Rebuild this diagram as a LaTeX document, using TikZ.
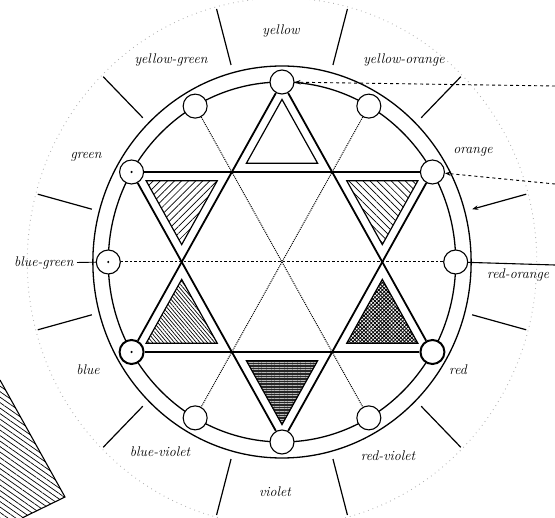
\documentclass[tikz,border=0pt]{standalone}
\usepackage{tikz}
\usetikzlibrary{arrows.meta, patterns.meta}

\begin{document}
\begin{tikzpicture}[x=1pt, y=1pt,
            hue/.style={circle, draw, fill=white, minimum size=24pt, inner sep=0pt, line width=1.1pt},
            keyhue/.style={hue, line width=2pt},
            ring/.style={line width=1.3pt},
            hexside/.style={line width=1.8pt},
            inset/.style={line width=1.2pt},
            guide/.style={densely dotted, line width=1pt},
            tickmark/.style={line width=1.2pt},
            pointer/.style={dashed, line width=0.9pt, -{Stealth[length=6pt]}},
            lbl/.style={font=\fontsize{14}{16}\selectfont\itshape}
        ]
            \useasboundingbox (0,0) rectangle (555,-518);

            % hatched corner of another figure
            \fill[pattern={Lines[angle=-35, distance=4.5pt, line width=0.7pt]}]
                (0,-380) -- (65,-497) -- (22,-518) -- (0,-518) -- cycle;
            \draw[line width=1.1pt] (0,-380) -- (65,-497) -- (22,-518);

            \begin{scope}[shift={(282,-262)}, xscale=0.965]
                % faint outer guide circle
                \draw[gray!60, dash pattern=on 0.8pt off 4pt, line width=0.9pt] (0,0) circle (264);

                % the double ring
                \draw[ring] (0,0) circle (180);
                \draw[ring] (0,0) circle (196);

                % ticks between the hues
                \draw[tickmark, -{Stealth[length=6pt]}] (15:262) -- (15:204);
                \draw[tickmark] (45:204) -- (45:262);
                \draw[tickmark] (75:204) -- (75:262);
                \draw[tickmark] (105:204) -- (105:262);
                \draw[tickmark] (135:204) -- (135:262);
                \draw[tickmark] (165:204) -- (165:262);
                \draw[tickmark] (195:204) -- (195:262);
                \draw[tickmark] (225:204) -- (225:262);
                \draw[tickmark] (255:204) -- (255:262);
                \draw[tickmark] (285:204) -- (285:262);
                \draw[tickmark] (315:204) -- (315:262);
                \draw[tickmark] (345:204) -- (345:262);

                % twelve hues on the ring
                \node[hue] (y) at (90:180) {};
                \node[hue] (yo) at (60:180) {};
                \node[hue] (o) at (30:180) {};
                \node[hue] (ro) at (0:180) {};
                \node[keyhue] (r) at (-30:180) {};
                \node[hue] (rv) at (-60:180) {};
                \node[hue] (v) at (-90:180) {};
                \node[hue] (bv) at (-120:180) {};
                \node[keyhue] (b) at (-150:180) {};
                \node[hue] (bg) at (180:180) {};
                \node[hue] (g) at (150:180) {};
                \node[hue] (yg) at (120:180) {};
                \fill (g) circle (1.2pt);
                \fill (bg) circle (1.2pt);
                \fill (b) circle (1.2pt);

                % inset point triangles
                \draw[inset, fill=white] (90:162.6) -- (110.5:105.4) -- (69.5:105.4) -- cycle;
                \draw[inset, pattern={Lines[angle=45, distance=5pt, line width=0.7pt]}]
                    (150:162.6) -- (170.5:105.4) -- (129.5:105.4) -- cycle;
                \draw[inset, pattern={Lines[angle=-45, distance=5pt, line width=0.7pt]}]
                    (30:162.6) -- (50.5:105.4) -- (9.5:105.4) -- cycle;
                \draw[inset, pattern={Lines[angle=-50, distance=2.8pt, line width=0.7pt]}]
                    (210:162.6) -- (230.5:105.4) -- (189.5:105.4) -- cycle;
                \draw[inset, pattern={Hatch[angle=45, distance=2.6pt, line width=0.8pt]}]
                    (330:162.6) -- (350.5:105.4) -- (309.5:105.4) -- cycle;
                \draw[inset, preaction={fill=black!85}, pattern color=gray!55,
                      pattern={Lines[angle=0, distance=2.6pt, line width=0.6pt]}]
                    (270:162.6) -- (290.5:105.4) -- (249.5:105.4) -- cycle;
            \end{scope}

            % guide diameters
            \draw[line width=1pt, dash pattern=on 2.5pt off 2pt] (bg) -- (ro);
            \draw[guide] (yo) -- (bv);
            \draw[guide] (yg) -- (rv);

            % hexagram, upward triangle
            \draw[hexside] (y) -- (b);
            \draw[hexside] (b) -- (r);
            \draw[hexside] (r) -- (y);

            % hexagram, downward triangle
            \draw[hexside] (g) -- (o);
            \draw[hexside] (o) -- (v);
            \draw[hexside] (v) -- (g);

            % hue labels
            \node[lbl] (ly) at (281,-31) {yellow};
            \node[lbl] (lyo) at (404,-60) {yellow-orange};
            \node[lbl] (lo) at (473,-152) {orange};
            \node[lbl] (lr) at (458,-370) {red};
            \node[lbl] (lrv) at (388,-456) {red-violet};
            \node[lbl] (lv) at (275,-492) {violet};
            \node[lbl] (lbv) at (160,-452) {blue-violet};
            \node[lbl] (lb) at (88,-370) {blue};
            \node[lbl] (lg) at (86,-157) {green};
            \node[lbl] (lyg) at (171,-60) {yellow-green};
            \node[lbl, anchor=east] (lbg) at (77,-263) {blue-green};
            \node[lbl, anchor=north west, inner sep=0pt] (lro) at (487,-269) {red-orange};

            % leader lines
            \draw[line width=0.9pt] (lbg) -- (bg);
            \coordinate (roend) at (555,-265);
            \draw[line width=1.1pt] (ro) -- (roend);
            \coordinate (yptr) at (555,-86);
            \coordinate (optr) at (555,-184);
            \draw[pointer] (yptr) -- (y);
            \draw[pointer] (optr) -- (o);
        \end{tikzpicture}
\end{document}
